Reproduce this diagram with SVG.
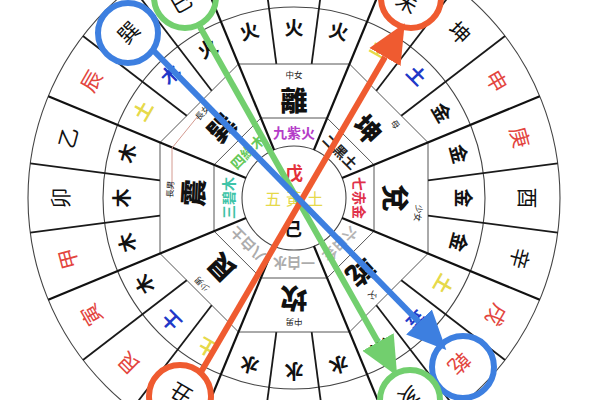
<svg xmlns="http://www.w3.org/2000/svg" width="600" height="400" viewBox="0 0 600 400">
<style>
text{font-family:"Noto Sans CJK TC","Noto Sans CJK SC",sans-serif;text-anchor:middle;dominant-baseline:central}
.ring{fill:none;stroke:#444;stroke-width:1.1}
.oct{fill:none;stroke:#555;stroke-width:1}
.div{stroke:#1a1a1a;stroke-width:1.8}
.thk{stroke:#111;stroke-width:2.2}
.mt{font-size:21px}
.el{font-size:19px;font-weight:bold}
.tg{font-size:27px;font-weight:900;fill:#111}
.sm{font-size:8.5px;fill:#222}
.st{font-size:14px;font-weight:bold}
.red{fill:#e3453e}.blk{fill:#111}.yel{fill:#e6d94a}.blu{fill:#2138c8}
.mark{fill:none;stroke-width:6}
.conn{fill:none;stroke-width:6}
</style>
<defs>
<marker id="ahB" markerUnits="userSpaceOnUse" markerWidth="42" markerHeight="38" viewBox="0 -19 42 38" refX="0" refY="0" orient="auto"><path d="M0,-18 L39,0 L0,18 z" fill="#3d7fe0"/></marker>
<marker id="ahG" markerUnits="userSpaceOnUse" markerWidth="42" markerHeight="38" viewBox="0 -19 42 38" refX="0" refY="0" orient="auto"><path d="M0,-18 L39,0 L0,18 z" fill="#72cf6e"/></marker>
<marker id="ahR" markerUnits="userSpaceOnUse" markerWidth="42" markerHeight="38" viewBox="0 -19 42 38" refX="0" refY="0" orient="auto"><path d="M0,-18 L39,0 L0,18 z" fill="#ef5b30"/></marker>
</defs>
<rect width="600" height="400" fill="#fff"/>

<g id="rings">
<circle class="ring" cx="294" cy="198" r="266"/>
<circle class="ring" cx="294" cy="198" r="191"/>
<polygon class="oct" points="349.5,64 428,142.5 428,253.5 349.5,332 238.5,332 160,253.5 160,142.5 238.5,64"/>
<polygon class="oct" points="327.1,118 374,164.9 374,231.1 327.1,278 260.9,278 214,231.1 214,164.9 260.9,118"/>
<circle class="ring" cx="294" cy="198" r="52"/>
</g>

<g id="dividers">
<g class="thk">
<line x1="294" y1="146" x2="294" y2="-68" transform="rotate(22.5 294 198)"/>
<line x1="294" y1="146" x2="294" y2="-68" transform="rotate(67.5 294 198)"/>
<line x1="294" y1="146" x2="294" y2="-68" transform="rotate(112.5 294 198)"/>
<line x1="294" y1="146" x2="294" y2="-68" transform="rotate(157.5 294 198)"/>
<line x1="294" y1="146" x2="294" y2="-68" transform="rotate(202.5 294 198)"/>
<line x1="294" y1="146" x2="294" y2="-68" transform="rotate(247.5 294 198)"/>
<line x1="294" y1="146" x2="294" y2="-68" transform="rotate(292.5 294 198)"/>
<line x1="294" y1="146" x2="294" y2="-68" transform="rotate(337.5 294 198)"/>
</g>
<g class="div">
<line x1="294" y1="62.8" x2="294" y2="-68" transform="rotate(7.5 294 198)"/>
<line x1="294" y1="62.8" x2="294" y2="-68" transform="rotate(37.5 294 198)"/>
<line x1="294" y1="62.8" x2="294" y2="-68" transform="rotate(52.5 294 198)"/>
<line x1="294" y1="62.8" x2="294" y2="-68" transform="rotate(82.5 294 198)"/>
<line x1="294" y1="62.8" x2="294" y2="-68" transform="rotate(97.5 294 198)"/>
<line x1="294" y1="62.8" x2="294" y2="-68" transform="rotate(127.5 294 198)"/>
<line x1="294" y1="62.8" x2="294" y2="-68" transform="rotate(142.5 294 198)"/>
<line x1="294" y1="62.8" x2="294" y2="-68" transform="rotate(172.5 294 198)"/>
<line x1="294" y1="62.8" x2="294" y2="-68" transform="rotate(187.5 294 198)"/>
<line x1="294" y1="62.8" x2="294" y2="-68" transform="rotate(217.5 294 198)"/>
<line x1="294" y1="62.8" x2="294" y2="-68" transform="rotate(232.5 294 198)"/>
<line x1="294" y1="62.8" x2="294" y2="-68" transform="rotate(262.5 294 198)"/>
<line x1="294" y1="62.8" x2="294" y2="-68" transform="rotate(277.5 294 198)"/>
<line x1="294" y1="62.8" x2="294" y2="-68" transform="rotate(307.5 294 198)"/>
<line x1="294" y1="62.8" x2="294" y2="-68" transform="rotate(322.5 294 198)"/>
<line x1="294" y1="62.8" x2="294" y2="-68" transform="rotate(352.5 294 198)"/>
</g>
<path d="M172,190 L172,148 L198,116" fill="none" stroke="#d49a90" stroke-width="1"/>
</g>

<g id="mountains" class="mt">
<text class="blk" x="294" y="-29" transform="rotate(210 294 198)">丑</text>
<text class="red" x="294" y="-37" transform="rotate(225 294 198)">艮</text>
<text class="red" x="294" y="-37" transform="rotate(240 294 198)">寅</text>
<text class="red" x="294" y="-37" transform="rotate(255 294 198)">甲</text>
<text class="blk" x="294" y="-37" transform="rotate(270 294 198)">卯</text>
<text class="blk" x="294" y="-37" transform="rotate(285 294 198)">乙</text>
<text class="red" x="294" y="-37" transform="rotate(300 294 198)">辰</text>
<text class="blk" x="294" y="-37" transform="rotate(315 294 198)">巽</text>
<text class="blk" x="294" y="-29" transform="rotate(330 294 198)">巳</text>
<text class="blk" x="294" y="-29" transform="rotate(30 294 198)">未</text>
<text class="blk" x="294" y="-37" transform="rotate(45 294 198)">坤</text>
<text class="red" x="294" y="-37" transform="rotate(60 294 198)">申</text>
<text class="red" x="294" y="-37" transform="rotate(75 294 198)">庚</text>
<text class="blk" x="294" y="-37" transform="rotate(90 294 198)">酉</text>
<text class="blk" x="294" y="-37" transform="rotate(105 294 198)">辛</text>
<text class="red" x="294" y="-37" transform="rotate(120 294 198)">戌</text>
<text class="red" x="294" y="-37" transform="rotate(135 294 198)">乾</text>
<text class="blk" x="294" y="-33" transform="rotate(150 294 198)">亥</text>
</g>

<g id="elements" class="el">
<text class="yel" x="294" y="24" transform="rotate(210 294 198)">土</text>
<text class="blu" x="294" y="23" transform="rotate(225 294 198)">土</text>
<text class="blk" x="294" y="24" transform="rotate(240 294 198)">木</text>
<text class="blk" x="294" y="24" transform="rotate(255 294 198)">木</text>
<text class="blk" x="294" y="24" transform="rotate(270 294 198)">木</text>
<text class="blk" x="294" y="24" transform="rotate(285 294 198)">木</text>
<text class="yel" x="294" y="22" transform="rotate(300 294 198)">土</text>
<text class="blu" x="294" y="22" transform="rotate(315 294 198)">木</text>
<text class="blk" x="294" y="24" transform="rotate(330 294 198)">火</text>
<text class="blk" x="294" y="24" transform="rotate(345 294 198)">火</text>
<text class="blk" x="294" y="26">火</text>
<text class="blk" x="294" y="24" transform="rotate(15 294 198)">火</text>
<text class="yel" x="294" y="24" transform="rotate(30 294 198)">土</text>
<text class="blu" x="294" y="23" transform="rotate(45 294 198)">土</text>
<text class="blk" x="294" y="26" transform="rotate(60 294 198)">金</text>
<text class="blk" x="294" y="26" transform="rotate(75 294 198)">金</text>
<text class="blk" x="294" y="28" transform="rotate(90 294 198)">金</text>
<text class="blk" x="294" y="26" transform="rotate(105 294 198)">金</text>
<text class="yel" x="294" y="24" transform="rotate(120 294 198)">土</text>
<text class="blu" x="294" y="23" transform="rotate(135 294 198)">金</text>
<text class="blk" x="294" y="24" transform="rotate(150 294 198)">水</text>
<text class="blk" x="294" y="24" transform="rotate(165 294 198)">水</text>
<text class="blk" x="294" y="24" transform="rotate(180 294 198)">水</text>
<text class="blk" x="294" y="24" transform="rotate(195 294 198)">水</text>
</g>

<g id="trigram-li"><text class="tg" x="294" y="99">離</text><text class="sm" x="294" y="74">中女</text></g>
<g id="trigram-kun"><text class="tg" x="294" y="96" transform="rotate(47 294 198)">坤</text><text class="sm" x="294" y="72" transform="rotate(54 294 198)">母</text></g>
<g id="trigram-dui"><text class="tg" x="294" y="96" transform="rotate(90 294 198)">兌</text><text class="sm" x="294" y="72" transform="rotate(97 294 198)">少女</text></g>
<g id="trigram-qian"><text class="tg" x="294" y="97" transform="rotate(138 294 198)">乾</text><text class="sm" x="294" y="72" transform="rotate(141 294 198)">父</text></g>
<g id="trigram-kan"><text class="tg" x="294" y="97" transform="rotate(180 294 198)">坎</text><text class="sm" x="294" y="73" transform="rotate(180 294 198)">中男</text></g>
<g id="trigram-gen"><text class="tg" x="294" y="96" transform="rotate(226 294 198)">艮</text><text class="sm" x="294" y="71" transform="rotate(227 294 198)">少男</text></g>
<g id="trigram-zhen"><text class="tg" x="294" y="96" transform="rotate(273 294 198)">震</text><text class="sm" x="294" y="73" transform="rotate(274 294 198)">長男</text></g>
<g id="trigram-xun"><text class="tg" x="294" y="96" transform="rotate(314 294 198)">巽</text><text class="sm" x="294" y="72" transform="rotate(313 294 198)">長女</text></g>

<g id="stars" class="st">
<text x="294" y="132" fill="#b43cc8">九紫火</text>
<text x="294" y="132" fill="#222" transform="rotate(45 294 198)">二黑土</text>
<text x="294" y="132" fill="#e0304a" transform="rotate(90 294 198)">七赤金</text>
<text x="294" y="132" fill="#b4b4b4" transform="rotate(135 294 198)">六白金</text>
<text x="294" y="132" fill="#acacac" transform="rotate(180 294 198)">一白水</text>
<text x="294" y="132" fill="#acacac" transform="rotate(225 294 198)">八白土</text>
<text x="294" y="132" fill="#3fc4a8" transform="rotate(270 294 198)">三碧木</text>
<text x="294" y="132" fill="#66c95a" transform="rotate(315 294 198)">四綠木</text>
</g>

<g id="center">
<text x="294" y="172" font-size="18" font-weight="bold" fill="#e3303a">戊</text>
<text x="273" y="198" font-size="16" fill="#e6d94a">五</text>
<text x="294" y="198" font-size="16" fill="#e6d94a">黃</text>
<text x="315" y="198" font-size="16" fill="#e6d94a">土</text>
<text x="293" y="228" font-size="18" font-weight="bold" fill="#111">己</text>
</g>

<g id="mark-xun"><circle class="mark" cx="128" cy="33" r="30" stroke="#3d7fe0"/></g>
<g id="mark-qian"><circle class="mark" cx="463" cy="367" r="31" stroke="#3d7fe0"/></g>
<g id="mark-si"><circle class="mark" cx="185" cy="-3" r="31" stroke="#72cf6e"/></g>
<g id="mark-hai"><circle class="mark" cx="410" cy="400" r="30" stroke="#72cf6e"/></g>
<g id="mark-chou"><circle class="mark" cx="180" cy="396" r="31" stroke="#ef5b30"/></g>
<g id="mark-wei"><circle class="mark" cx="411" cy="-2" r="30" stroke="#ef5b30"/></g>

<g id="connectors">
<line class="conn" x1="200" y1="27" x2="378" y2="342" stroke="#72cf6e" marker-end="url(#ahG)"/>
<line class="conn" x1="201" y1="372" x2="385" y2="57" stroke="#ef5b30" marker-end="url(#ahR)"/>
<line class="conn" x1="152" y1="49" x2="419" y2="322" stroke="#3d7fe0" marker-end="url(#ahB)"/>
</g>
</svg>
